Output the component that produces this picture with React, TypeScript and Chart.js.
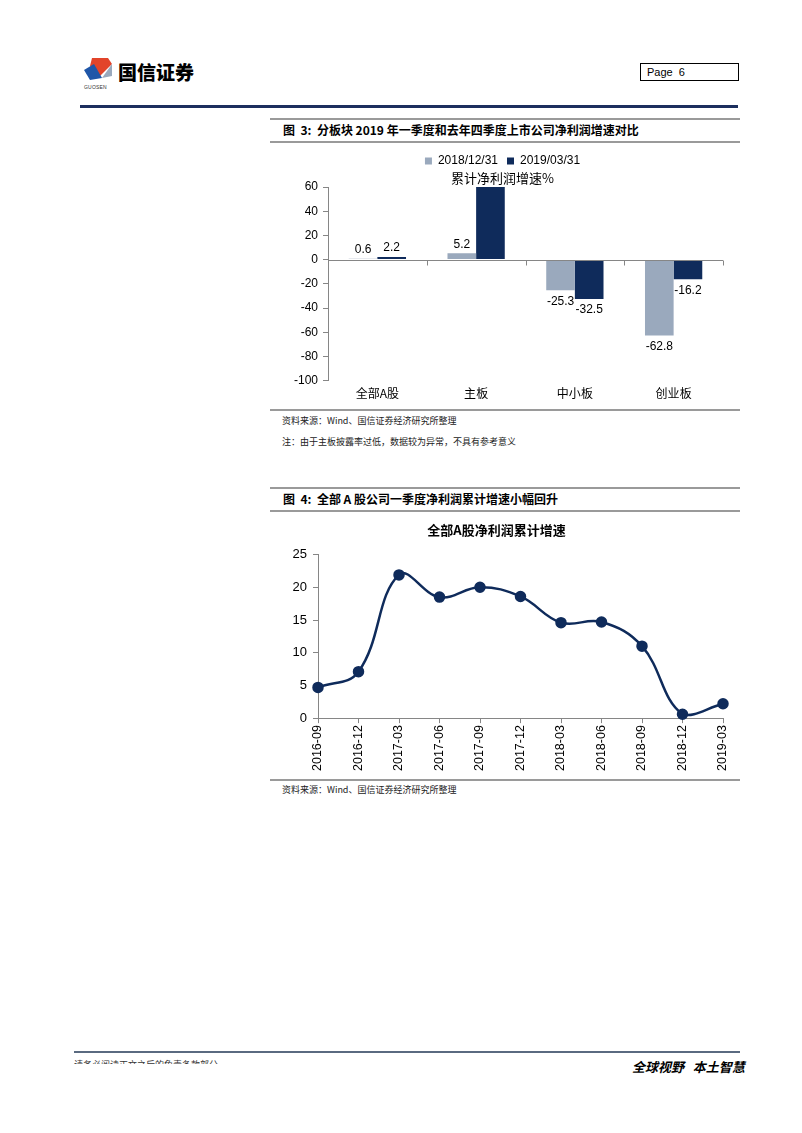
import React, { useEffect, useRef } from "react";
import { Chart, registerables } from "chart.js";

Chart.register(...registerables);

// ---------- data ----------
const barCategories = ["全部A股", "主板", "中小板", "创业板"];
const barSeriesNames = ["2018/12/31", "2019/03/31"];
const bar2018 = [0.6, 5.2, -25.3, -62.8];
const bar2019 = [2.2, 60, -32.5, -16.2];
const bar2018Labels = ["0.6", "5.2", "-25.3", "-62.8"];
const bar2019Labels = ["2.2", null, "-32.5", "-16.2"];
const barTitle = "累计净利润增速%";
const barYMin = -100;
const barYMax = 60;
const barYStep = 20;

const lineCategories = [
  "2016-09", "2016-12", "2017-03", "2017-06", "2017-09", "2017-12",
  "2018-03", "2018-06", "2018-09", "2018-12", "2019-03",
];
const lineValues = [4.7, 7.1, 21.9, 18.5, 20.0, 18.6, 14.6, 14.7, 11.0, 0.6, 2.2];
const lineTitle = "全部A股净利润累计增速";
const lineYMin = 0;
const lineYMax = 25;
const lineYStep = 5;

// ---------- styles ----------
const NAVY = "#0f2b5b";
const GREY_BAR = "#9aa9bd";
const AXIS = "#868686";
const SANS = "'Liberation Sans', Arial, 'Noto Sans CJK SC', sans-serif";
const CJK = "'Noto Sans CJK SC', 'Liberation Sans', sans-serif";

const barLabelPlugin = {
  id: "barLabels",
  afterDatasetsDraw(chart: any) {
    const ctx = chart.ctx;
    ctx.save();
    ctx.font = "12px " + SANS;
    ctx.fillStyle = "#000";
    ctx.textAlign = "center";
    chart.data.datasets.forEach((ds: any, i: number) => {
      const meta = chart.getDatasetMeta(i);
      const labels = ds.valueLabels as (string | null)[];
      meta.data.forEach((el: any, j: number) => {
        const txt = labels[j];
        if (txt == null) return;
        const v = ds.data[j];
        if (v >= 0) {
          ctx.textBaseline = "bottom";
          ctx.fillText(txt, el.x, el.y - 3);
        } else {
          ctx.textBaseline = "top";
          ctx.fillText(txt, el.x, el.y + 5);
        }
      });
    });
    ctx.restore();
  },
};

const zeroAxisPlugin = {
  id: "zeroAxis",
  afterDatasetsDraw(chart: any) {
    const ctx = chart.ctx;
    const xs = chart.scales.x;
    const ys = chart.scales.y;
    const area = chart.chartArea;
    const y0 = Math.round(ys.getPixelForValue(0)) + 0.5;
    ctx.save();
    ctx.strokeStyle = AXIS;
    ctx.lineWidth = 1;
    ctx.beginPath();
    ctx.moveTo(area.left, y0);
    ctx.lineTo(area.right, y0);
    const n = chart.data.labels.length;
    for (let i = 0; i < n; i++) {
      let xb: number;
      if (i < n - 1) xb = (xs.getPixelForValue(i) + xs.getPixelForValue(i + 1)) / 2;
      else xb = area.right;
      xb = Math.round(xb) + 0.5;
      ctx.moveTo(xb, y0);
      ctx.lineTo(xb, y0 + 5);
    }
    ctx.stroke();
    ctx.restore();
  },
};

function BarChart() {
  const ref = useRef<HTMLCanvasElement>(null);
  useEffect(() => {
    if (!ref.current) return;
    const chart = new Chart(ref.current, {
      type: "bar",
      data: {
        labels: barCategories,
        datasets: [
          {
            label: barSeriesNames[0],
            data: bar2018,
            backgroundColor: GREY_BAR,
            valueLabels: bar2018Labels,
            barPercentage: 1,
            categoryPercentage: 0.58,
          } as any,
          {
            label: barSeriesNames[1],
            data: bar2019,
            backgroundColor: NAVY,
            valueLabels: bar2019Labels,
            barPercentage: 1,
            categoryPercentage: 0.58,
          } as any,
        ],
      },
      options: {
        animation: false,
        responsive: false,
        maintainAspectRatio: false,
        layout: { padding: { left: 0, right: 17, top: 0, bottom: 0 } },
        plugins: {
          legend: {
            display: true,
            position: "top",
            labels: {
              boxWidth: 7,
              boxHeight: 7,
              padding: 9,
              color: "#000",
              font: { size: 12, family: SANS },
            },
          },
          title: {
            display: true,
            text: barTitle,
            color: "#000",
            weight: 500,
            font: { size: 13, family: CJK, weight: "normal" as any },
            padding: { top: -7, bottom: 1.4 },
          } as any,
          tooltip: { enabled: false },
        },
        scales: {
          x: {
            grid: { display: false, drawTicks: false },
            border: { display: false },
            ticks: {
              color: "#000",
              font: { size: 12, family: CJK },
              padding: 6,
            },
          },
          y: {
            min: barYMin,
            max: barYMax,
            ticks: {
              stepSize: barYStep,
              color: "#000",
              font: { size: 12, family: SANS },
              padding: 5,
            },
            grid: {
              drawOnChartArea: false,
              drawTicks: true,
              tickLength: 5,
              tickColor: AXIS,
            },
            border: { display: true, color: AXIS },
            afterFit(scale: any) {
              scale.width = 46;
            },
          },
        },
      },
      plugins: [zeroAxisPlugin, barLabelPlugin],
    });
    return () => chart.destroy();
  }, []);
  return <canvas ref={ref} width={458} height={261} style={{ display: "block", width: 458, height: 261 }} />;
}

function LineChart() {
  const ref = useRef<HTMLCanvasElement>(null);
  useEffect(() => {
    if (!ref.current) return;
    const chart = new Chart(ref.current, {
      type: "line",
      data: {
        labels: lineCategories,
        datasets: [
          {
            label: lineTitle,
            data: lineValues,
            borderColor: NAVY,
            backgroundColor: NAVY,
            borderWidth: 2.5,
            pointRadius: 4.5,
            pointBackgroundColor: NAVY,
            pointBorderColor: NAVY,
            tension: 0.4,
            fill: false,
            clip: 8,
          } as any,
        ],
      },
      options: {
        animation: false,
        responsive: false,
        maintainAspectRatio: false,
        layout: { padding: { left: 0, right: 17, top: 0, bottom: 0 } },
        plugins: {
          legend: { display: false },
          title: {
            display: true,
            text: lineTitle,
            color: "#000",
            font: { size: 13, family: CJK, weight: "bold" as any },
            padding: { top: 8, bottom: 17 },
          },
          tooltip: { enabled: false },
        },
        scales: {
          x: {
            offset: false,
            grid: {
              drawOnChartArea: false,
              drawTicks: true,
              tickLength: 5,
              tickColor: AXIS,
            },
            border: { display: true, color: AXIS },
            ticks: {
              color: "#000",
              font: { size: 12.5, family: SANS },
              minRotation: 90,
              maxRotation: 90,
              autoSkip: false,
              padding: 2,
            },
          },
          y: {
            min: lineYMin,
            max: lineYMax,
            ticks: {
              stepSize: lineYStep,
              color: "#000",
              font: { size: 13, family: SANS },
              padding: 6,
            },
            grid: {
              drawOnChartArea: false,
              drawTicks: true,
              tickLength: 5,
              tickColor: AXIS,
            },
            border: { display: true, color: AXIS },
            afterFit(scale: any) {
              scale.width = 48;
            },
          },
        },
      },
    });
    return () => chart.destroy();
  }, []);
  return <canvas ref={ref} width={470} height={259} style={{ display: "block", width: 470, height: 259 }} />;
}

const abs = (left: number, top: number, extra: React.CSSProperties = {}): React.CSSProperties => ({
  position: "absolute",
  left,
  top,
  ...extra,
});

export default function App() {
  const hr = (top: number, left: number, width: number, color: string, h = 1): React.CSSProperties =>
    abs(left, top, { width, height: h, background: color });
  return (
    <div
      style={{
        position: "absolute",
        left: 0,
        top: 0,
        width: 802,
        height: 1133,
        background: "#fff",
        overflow: "hidden",
        fontFamily: CJK,
        color: "#000",
      }}
    >
      {/* header logo */}
      <svg style={abs(82, 56)} width={36} height={34} viewBox="0 0 36 34">
        <polygon points="10,2 26,2 30,8 18,20 8,10" fill="#e2442a" />
        <polygon points="2,14 12,8 20,22 8,24" fill="#1f56a8" />
        <polygon points="20,22 30,8 30,20" fill="#9aa9bd" />
      </svg>
      <div style={abs(84, 84, { fontSize: 5, fontFamily: SANS, color: "#333", letterSpacing: 0.2 })}>GUOSEN</div>
      <div style={abs(118, 60, { fontSize: 19, fontWeight: 900, letterSpacing: 0, lineHeight: "24px" })}>国信证券</div>

      {/* page box */}
      <div
        style={abs(640, 63, {
          width: 91,
          height: 16,
          border: "1px solid #000",
          fontFamily: SANS,
          fontSize: 11,
          lineHeight: "16px",
          paddingLeft: 6,
          boxSizing: "content-box",
        })}
      >
        Page&nbsp;&nbsp;6
      </div>

      {/* header rule */}
      <div style={hr(105, 80, 658, "#1c2f5e", 3)} />

      {/* caption 1 */}
      <div style={hr(118, 270, 470, "#9a9a9a", 2)} />
      <div style={abs(283, 121, { fontSize: 12, fontWeight: "bold", lineHeight: "18px", whiteSpace: "nowrap" })}>
        图&nbsp; 3:&nbsp; 分板块 2019 年一季度和去年四季度上市公司净利润增速对比
      </div>
      <div style={hr(141, 270, 470, "#9a9a9a", 2)} />

      {/* chart 1 */}
      <div style={abs(282, 146)}>
        <BarChart />
      </div>

      <div style={hr(409, 270, 470, "#9a9a9a", 2)} />
      <div style={abs(282, 414, { fontSize: 9, lineHeight: "14px", whiteSpace: "nowrap", color: "#222" })}>
        资料来源：Wind、国信证券经济研究所整理
      </div>
      <div style={abs(282, 435, { fontSize: 9, lineHeight: "14px", whiteSpace: "nowrap", color: "#222" })}>
        注：由于主板披露率过低，数据较为异常，不具有参考意义
      </div>

      {/* caption 2 */}
      <div style={hr(487, 270, 470, "#9a9a9a", 2)} />
      <div style={abs(283, 490, { fontSize: 12, fontWeight: "bold", lineHeight: "18px", whiteSpace: "nowrap" })}>
        图&nbsp; 4:&nbsp; 全部 A 股公司一季度净利润累计增速小幅回升
      </div>
      <div style={hr(510, 270, 470, "#9a9a9a", 2)} />

      {/* chart 2 */}
      <div style={abs(270, 514)}>
        <LineChart />
      </div>

      <div style={hr(779, 270, 470, "#9a9a9a", 2)} />
      <div style={abs(282, 783, { fontSize: 9, lineHeight: "14px", whiteSpace: "nowrap", color: "#222" })}>
        资料来源：Wind、国信证券经济研究所整理
      </div>

      {/* footer */}
      <div style={hr(1051, 74, 666, "#5a6a80", 2)} />
      <div style={abs(74, 1058, { height: 6, overflow: "hidden" })}>
        <div style={{ fontSize: 9, lineHeight: "14px", whiteSpace: "nowrap", color: "#333" }}>
          请务必阅读正文之后的免责条款部分
        </div>
      </div>
      <div
        style={abs(632, 1058, {
          fontSize: 13,
          fontStyle: "italic",
          fontWeight: "bold",
          lineHeight: "18px",
          whiteSpace: "nowrap",
        })}
      >
        全球视野&nbsp;&nbsp; 本土智慧
      </div>
    </div>
  );
}
